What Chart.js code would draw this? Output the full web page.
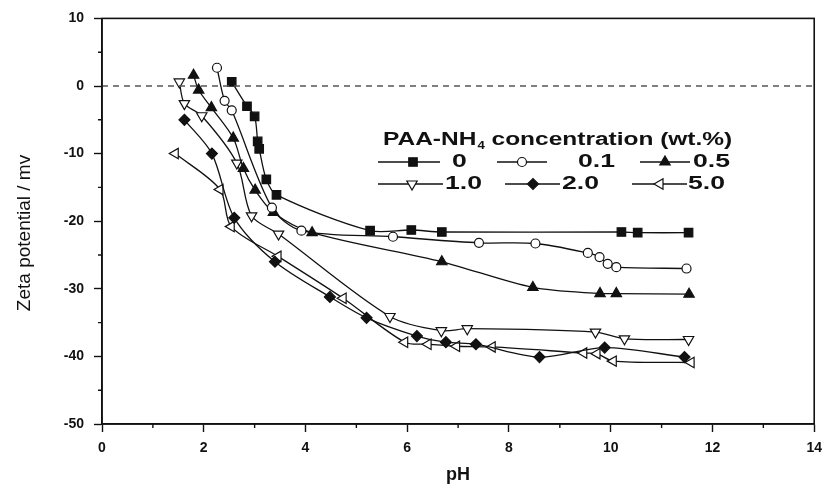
<!DOCTYPE html>
<html>
<head>
<meta charset="utf-8">
<script src="https://cdn.jsdelivr.net/npm/chart.js@4.4.1/dist/chart.umd.min.js"></script>
<style>
  html, body { margin: 0; padding: 0; background: #fff; }
  #wrap { width: 830px; height: 492px; }
</style>
</head>
<body>
<div id="wrap"><canvas id="zetaChart" width="830" height="492"></canvas></div>
<script>
// PAA-NH4 concentration (wt.%) for each curve
const concentrations = ['0', '0.1', '0.5', '1.0', '2.0', '5.0'];

// pH / zeta potential (mV)
const ph0 = [2.55, 2.85, 3.00, 3.06, 3.09, 3.23, 3.43, 5.27, 6.08, 6.68, 10.21, 10.53, 11.53];
const zeta0 = [0.6, -3.0, -4.5, -8.2, -9.3, -13.8, -16.1, -21.4, -21.3, -21.6, -21.6, -21.7, -21.7];

const ph01 = [2.26, 2.41, 2.55, 3.34, 3.92, 5.72, 7.41, 8.52, 9.55, 9.78, 9.94, 10.11, 11.49];
const zeta01 = [2.7, -2.2, -3.6, -18.0, -21.4, -22.3, -23.2, -23.3, -24.7, -25.3, -26.3, -26.8, -27.0];

const ph05 = [1.80, 1.90, 2.15, 2.58, 2.78, 3.01, 3.37, 4.13, 6.68, 8.47, 9.79, 10.11, 11.54];
const zeta05 = [1.6, -0.6, -3.2, -7.7, -12.2, -15.4, -18.7, -21.7, -26.0, -29.8, -30.7, -30.7, -30.8];

const ph10 = [1.52, 1.62, 1.96, 2.65, 2.94, 3.47, 5.66, 6.67, 7.18, 9.70, 10.27, 11.53];
const zeta10 = [0.6, -2.6, -4.4, -11.4, -19.2, -21.9, -34.1, -36.2, -35.9, -36.4, -37.4, -37.5];

const ph20 = [1.62, 2.16, 2.60, 3.40, 4.48, 5.20, 6.19, 6.76, 7.35, 8.60, 9.88, 11.45];
const zeta20 = [-5.0, -10.0, -19.5, -26.0, -31.2, -34.3, -37.0, -37.9, -38.2, -40.1, -38.7, -40.1];

const ph50 = [1.44, 2.32, 2.54, 3.46, 4.74, 5.95, 6.41, 6.97, 7.67, 9.47, 9.73, 10.05, 11.58];
const zeta50 = [-10.0, -15.3, -20.8, -25.2, -31.4, -37.9, -38.2, -38.5, -38.6, -39.5, -39.6, -40.7, -40.9];

// axis ticks
const phTicks = [0, 2, 4, 6, 8, 10, 12, 14];
const phMinor = [1, 3, 5, 7, 9, 11, 13];
const zetaTicks = [10, 0, -10, -20, -30, -40, -50];
const zetaMinor = [5, -5, -15, -25, -35, -45];

// dashed zero reference
const zeroLineX = [0, 14];
const zeroLineY = [0, 0];

const INK = '#111';
const FONT = '"Liberation Sans", Arial, sans-serif';

// marker style per curve
const markers = [
  { pointStyle: 'rect', rotation: 0, radius: 6, fill: INK },
  { pointStyle: 'circle', rotation: 0, radius: 4.5, fill: '#fff' },
  { pointStyle: 'triangle', rotation: 0, radius: 6, fill: INK },
  { pointStyle: 'triangle', rotation: 180, radius: 6, fill: '#fff' },
  { pointStyle: 'rectRot', rotation: 0, radius: 5.5, fill: INK },
  { pointStyle: 'triangle', rotation: 270, radius: 6, fill: '#fff' }
];

const series = [[ph0, zeta0], [ph01, zeta01], [ph05, zeta05], [ph10, zeta10], [ph20, zeta20], [ph50, zeta50]];

const datasets = series.map((s, i) => ({
  label: concentrations[i],
  data: s[0].map((x, j) => ({ x: x, y: s[1][j] })),
  borderColor: INK,
  borderWidth: 1.3,
  tension: 0.3,
  pointStyle: markers[i].pointStyle,
  rotation: markers[i].rotation,
  pointRadius: markers[i].radius,
  pointHoverRadius: markers[i].radius,
  pointBackgroundColor: markers[i].fill,
  pointBorderColor: INK,
  pointBorderWidth: 1.2
}));

datasets.unshift({
  label: 'zero',
  data: zeroLineX.map((x, j) => ({ x: x, y: zeroLineY[j] })),
  borderColor: '#555',
  borderWidth: 1.3,
  borderDash: [6, 5],
  pointRadius: 0
});

// legend rows: [line start, line end, marker x, text x, y]
const legendSlots = [
  [378, 440, 413, 452, 162], [497, 547, 522, 578, 162], [640, 690, 665, 693, 162],
  [378, 443, 412, 445, 184], [505, 560, 533, 562, 184], [632, 687, 660, 688, 184]
];

function stretchText(ctx, text, x, y, sx) {
  ctx.save();
  ctx.translate(x, y);
  ctx.scale(sx, 1);
  ctx.fillText(text, 0, 0);
  const w = ctx.measureText(text).width * sx;
  ctx.restore();
  return w;
}

const framePlugin = {
  id: 'frame',
  afterDraw(chart) {
    const ctx = chart.ctx;
    const a = chart.chartArea;
    const xs = chart.scales.x, ys = chart.scales.y;
    ctx.save();
    ctx.strokeStyle = INK;
    ctx.lineWidth = 1.6;
    ctx.strokeRect(a.left, a.top, a.right - a.left, a.bottom - a.top);

    // minor ticks
    ctx.lineWidth = 1.4;
    ctx.beginPath();
    phMinor.forEach(v => {
      const px = xs.getPixelForValue(v);
      ctx.moveTo(px, a.bottom);
      ctx.lineTo(px, a.bottom + 4);
    });
    zetaMinor.forEach(v => {
      const py = ys.getPixelForValue(v);
      ctx.moveTo(a.left - 4, py);
      ctx.lineTo(a.left, py);
    });
    ctx.stroke();

    // axis titles
    ctx.fillStyle = INK;
    ctx.textBaseline = 'middle';
    ctx.textAlign = 'center';
    ctx.font = 'bold 18px ' + FONT;
    ctx.fillText('pH', xs.getPixelForValue(7), 475);
    ctx.save();
    ctx.translate(25, 233);
    ctx.rotate(-Math.PI / 2);
    ctx.font = '19px ' + FONT;
    ctx.fillText('Zeta potential / mv', 0, 0);
    ctx.restore();

    // legend
    ctx.textAlign = 'left';
    ctx.font = 'bold 18px ' + FONT;
    let tx = 383;
    tx += stretchText(ctx, 'PAA-NH', tx, 140, 1.36);
    ctx.font = 'bold 11px ' + FONT;
    tx += stretchText(ctx, '4', tx + 1, 146, 1.2) + 1;
    ctx.font = 'bold 18px ' + FONT;
    stretchText(ctx, ' concentration (wt.%)', tx, 140, 1.36);

    legendSlots.forEach((s, i) => {
      const m = markers[i];
      ctx.strokeStyle = INK;
      ctx.lineWidth = 1.3;
      ctx.beginPath();
      ctx.moveTo(s[0], s[4]);
      ctx.lineTo(s[1], s[4]);
      ctx.stroke();
      ctx.fillStyle = m.fill;
      ctx.lineWidth = 1.2;
      Chart.helpers.drawPoint(ctx, {
        pointStyle: m.pointStyle, rotation: m.rotation, radius: m.radius, borderWidth: 1.2
      }, s[2], s[4]);
      ctx.fillStyle = INK;
      ctx.font = 'bold 19px ' + FONT;
      stretchText(ctx, concentrations[i], s[3], s[4], 1.4);
    });
    ctx.restore();
  }
};

new Chart(document.getElementById('zetaChart'), {
  type: 'line',
  data: { datasets: datasets },
  plugins: [framePlugin],
  options: {
    responsive: false,
    animation: false,
    devicePixelRatio: 1,
    layout: { padding: { top: 14, right: 15, bottom: 0, left: 0 } },
    plugins: { legend: { display: false }, tooltip: { enabled: false } },
    scales: {
      x: {
        type: 'linear',
        min: 0,
        max: 14,
        afterBuildTicks: scale => { scale.ticks = phTicks.map(v => ({ value: v })); },
        afterFit: scale => { scale.height = 68; },
        grid: { drawOnChartArea: false, tickLength: 8, tickColor: INK, tickWidth: 1.4 },
        border: { color: INK, width: 1.6 },
        ticks: { color: INK, padding: 8, maxRotation: 0, font: { family: FONT, size: 14, weight: 'bold' } }
      },
      y: {
        type: 'linear',
        min: -50,
        max: 10,
        afterBuildTicks: scale => { scale.ticks = zetaTicks.map(v => ({ value: v })); },
        afterFit: scale => { scale.width = 102; },
        grid: { drawOnChartArea: false, tickLength: 8, tickColor: INK, tickWidth: 1.4 },
        border: { color: INK, width: 1.6 },
        ticks: { color: INK, padding: 10, font: { family: FONT, size: 14, weight: 'bold' } }
      }
    }
  }
});
</script>
</body>
</html>
